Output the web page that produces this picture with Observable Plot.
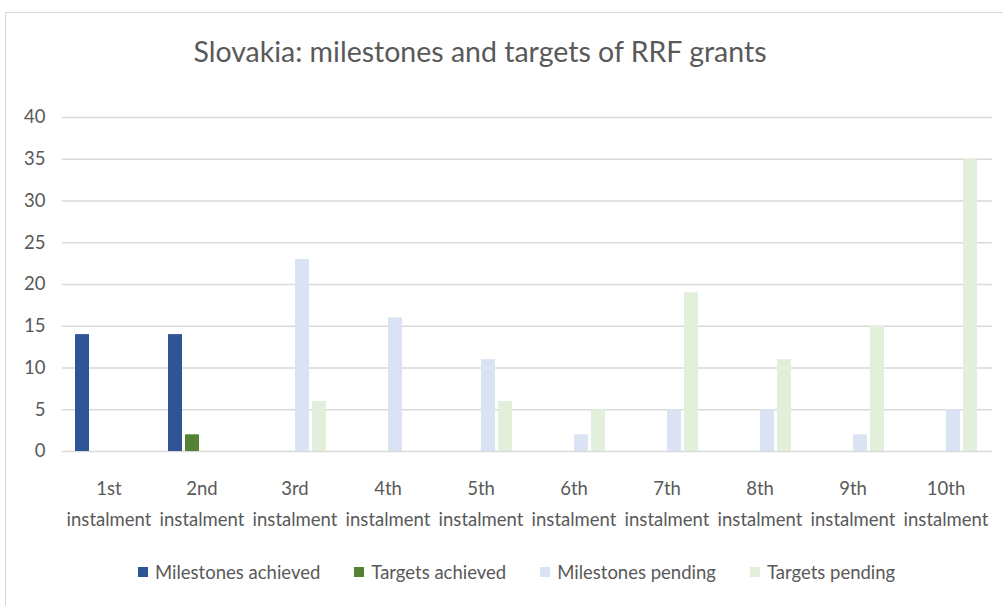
<!DOCTYPE html>
<html><head><meta charset="utf-8">
<script src="https://cdn.jsdelivr.net/npm/d3@7"></script>
<script src="https://cdn.jsdelivr.net/npm/@observablehq/plot@0.6"></script>
<style>
body{margin:0;background:#fff;font-family:Lato,"Open Sans",sans-serif;color:#595959;}
#wrap{position:relative;width:1003px;height:606px;overflow:hidden;background:#fff;}
#frame{position:absolute;left:5px;top:12px;width:1020px;height:640px;border:1.5px solid #d9d9d9;box-sizing:border-box;}
#title{position:absolute;left:0;width:960px;top:34px;text-align:center;font-size:28.5px;font-weight:400;color:#595959;white-space:nowrap;}
#chart{position:absolute;left:0;top:90px;}
#legend{position:absolute;left:138px;top:561px;display:flex;align-items:center;gap:34px;font-size:18.5px;color:#595959;white-space:nowrap;}
#legend .item{display:flex;align-items:center;gap:7px;}
#legend .sw{width:10px;height:10px;display:inline-block;}
</style></head>
<body><div id="wrap"><div id="frame"></div><div id="title"></div><div id="chart"></div><div id="legend"></div></div>
<script>
const title = "Slovakia: milestones and targets of RRF grants";
const categories = ["1st\ninstalment","2nd\ninstalment","3rd\ninstalment","4th\ninstalment","5th\ninstalment","6th\ninstalment","7th\ninstalment","8th\ninstalment","9th\ninstalment","10th\ninstalment"];
const seriesNames = ["Milestones achieved","Targets achieved","Milestones pending","Targets pending"];
const seriesColors = ["#2f5597","#548235","#dae3f3","#e2efda"];
const milestonesAchieved = [14,14,0,0,0,0,0,0,0,0];
const targetsAchieved    = [0,2,0,0,0,0,0,0,0,0];
const milestonesPending  = [0,0,23,16,11,2,5,5,2,5];
const targetsPending     = [0,0,6,0,6,5,19,11,15,35];
const yTicks = [0,5,10,15,20,25,30,35,40];

const seriesValues = [milestonesAchieved, targetsAchieved, milestonesPending, targetsPending];
const data = [];
categories.forEach((c, i) => seriesNames.forEach((s, j) => data.push({category: c, series: s, value: seriesValues[j][i]})));

document.getElementById("title").textContent = title;

const fontFamily = "Lato, 'Open Sans', sans-serif";
const chart = Plot.plot({
  width: 1003,
  height: 441,
  marginTop: 27,
  marginBottom: 80,
  marginLeft: 61,
  marginRight: 11,
  style: {fontFamily, color: "#595959", background: "transparent", overflow: "visible"},
  fx: {domain: categories, padding: 0, label: null},
  x: {domain: seriesNames, paddingInner: 0.176, paddingOuter: 0.8, align: 0.45, axis: null},
  y: {domain: [0, 40], label: null},
  color: {domain: seriesNames, range: seriesColors},
  marks: [
    Plot.gridY(yTicks, {stroke: "#d9d9d9", strokeOpacity: 1, strokeWidth: 1.5}),
    Plot.axisY({ticks: yTicks, tickSize: 0, tickPadding: 17, fontSize: 18.5, fill: "#595959", label: null}),
    Plot.axisFx({tickSize: 0, tickPadding: 22, fontSize: 18.5, lineHeight: 1.65, fill: "#595959", label: null, anchor: "bottom"}),
    Plot.barY(data, {fx: "category", x: "series", y: "value", fill: "series"})
  ]
});
document.getElementById("chart").appendChild(chart);

const legend = document.getElementById("legend");
seriesNames.forEach((s, j) => {
  const it = document.createElement("div"); it.className = "item";
  const sw = document.createElement("span"); sw.className = "sw"; sw.style.background = seriesColors[j];
  const tx = document.createElement("span"); tx.textContent = s;
  it.appendChild(sw); it.appendChild(tx); legend.appendChild(it);
});
</script></body></html>
